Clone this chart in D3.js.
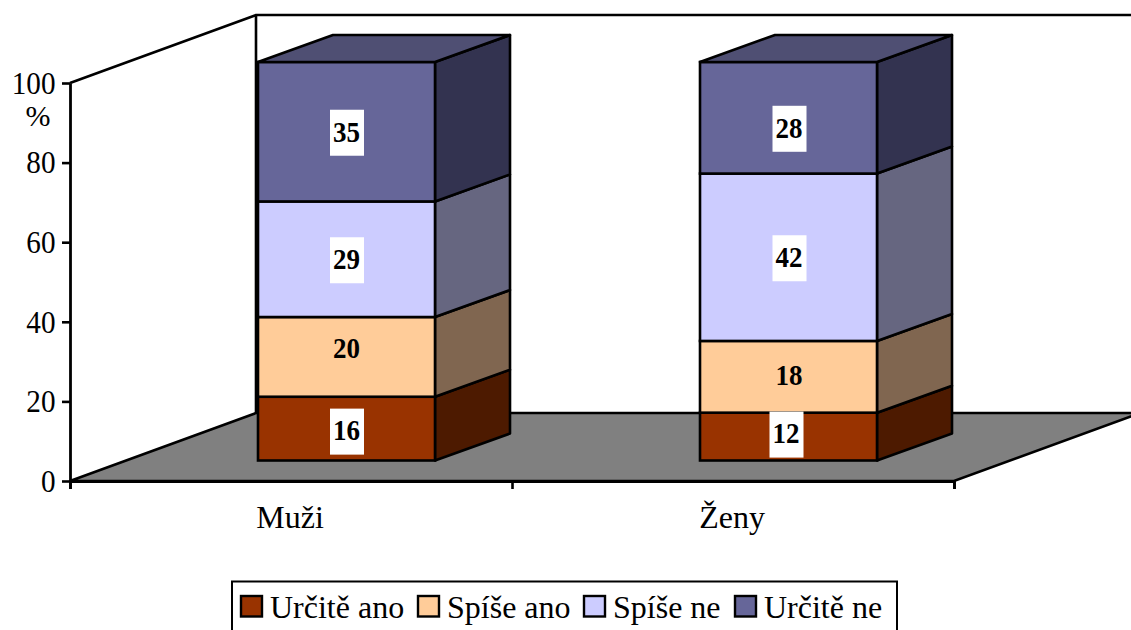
<!DOCTYPE html>
<html>
<head>
<meta charset="utf-8">
<script src="https://cdn.jsdelivr.net/npm/d3@7"></script>
<style>
html,body{margin:0;padding:0;background:#fff;overflow:hidden}
svg{display:block}
text{font-family:"Liberation Serif","Times New Roman",serif;fill:#000}
</style>
</head>
<body>
<script>
const categories = ["Muži", "Ženy"];
const seriesNames = ["Určitě ano", "Spíše ano", "Spíše ne", "Určitě ne"];
const muzi = [16, 20, 29, 35];
const zeny = [12, 18, 42, 28];
const yTicks = [0, 20, 40, 60, 80, 100];
const unitLabel = "%";

// styling / layout (not data)
const frontColors = ["#993300", "#FFCC99", "#CCCCFF", "#666699"];
const sideColors = ["#4D1A00", "#806650", "#666680", "#333350"];
const topColor = "#4F4F73";
const labelBoxed = [true, false, true, true];
const labelNudge = [[3, -8, 1, 1], [-2, -1, 1, 11]];
const labelNudgeX = [[0, 0, 0, 0], [-2, 0, 0, 0]];
const legendSwatchX = [241, 418, 584, 735];
const legendTextX = [270, 447, 613, 764];

const W = 1131, H = 630;
const svg = d3.select("body").append("svg").attr("width", W).attr("height", H);

const axisX0 = 70, axisX1 = 954, axisY0 = 481, axisY1 = 83;
const wallDx = 186, wallDy = -68;
const barDx = 75, barDy = -27;

const yAxisScale = d3.scaleLinear().domain([0, 100]).range([axisY0, axisY1]);
const yBar = d3.scaleLinear().domain([0, 100]).range([460.5, 62]);
const xBand = d3.scaleBand().domain(categories).range([axisX0, axisX1]);
const barOffset = 188, barWidth = 177;

const sw = 2.6;
const line = d3.line();

// back wall
svg.append("path").attr("fill", "none").attr("stroke", "#000").attr("stroke-width", sw)
  .attr("d", line([[axisX0, axisY1], [axisX0 + wallDx, axisY1 + wallDy], [W + 5, axisY1 + wallDy]]));
svg.append("path").attr("fill", "none").attr("stroke", "#000").attr("stroke-width", sw)
  .attr("d", line([[axisX0 + wallDx, axisY1 + wallDy], [axisX0 + wallDx, axisY0 + wallDy]]));

// floor
svg.append("path").attr("fill", "#808080").attr("stroke", "#000").attr("stroke-width", sw)
  .attr("d", line([[axisX0, axisY0], [axisX0 + wallDx, axisY0 + wallDy], [axisX1 + wallDx, axisY0 + wallDy], [axisX1, axisY0]]) + "Z");

// axes
const yAxis = d3.axisLeft(yAxisScale).tickValues(yTicks).tickSize(8).tickPadding(6.5).tickSizeOuter(0);
const gy = svg.append("g").attr("transform", `translate(${axisX0},0)`).call(yAxis);
gy.selectAll("path.domain").attr("stroke", "#000").attr("stroke-width", 2.8);
gy.selectAll(".tick line").attr("stroke", "#000").attr("stroke-width", 2.6);
gy.selectAll("text").attr("font-size", 32).style("font-family", '"Liberation Serif",serif').attr("fill", "#000")
  .attr("textLength", d => String(d).length * 14.6).attr("lengthAdjust", "spacingAndGlyphs");

const edge = d3.scaleLinear().domain([0, categories.length]).range([axisX0, axisX1]);
const xAxis = d3.axisBottom(edge).tickValues(d3.range(categories.length + 1)).tickSize(8).tickFormat("");
const gx = svg.append("g").attr("transform", `translate(0,${axisY0})`).call(xAxis);
gx.selectAll("path.domain").attr("stroke", "#000").attr("stroke-width", 2.8);
gx.selectAll(".tick line").attr("stroke", "#000").attr("stroke-width", 2.6);

svg.append("text").attr("x", 38).attr("y", 126).attr("text-anchor", "middle").attr("font-size", 30).text(unitLabel);

categories.forEach(c => {
  svg.append("text").attr("x", xBand(c) + xBand.bandwidth() / 2 - 1).attr("y", 528)
    .attr("text-anchor", "middle").attr("font-size", 32).text(c);
});

// stacked bars
const table = categories.map((c, i) => {
  const row = { cat: c };
  const vals = i === 0 ? muzi : zeny;
  seriesNames.forEach((s, j) => row[s] = vals[j]);
  return row;
});
const stacked = d3.stack().keys(seriesNames)(table);

categories.forEach((c, ci) => {
  const x0 = xBand(c) + barOffset, x1 = x0 + barWidth;
  const g = svg.append("g");
  stacked.forEach((layer, si) => {
    const [v0, v1] = layer[ci];
    const yb = yBar(v0), yt = yBar(v1);
    g.append("path").attr("fill", sideColors[si]).attr("stroke", "#000").attr("stroke-width", sw)
      .attr("stroke-linejoin", "round")
      .attr("d", line([[x1, yb], [x1 + barDx, yb + barDy], [x1 + barDx, yt + barDy], [x1, yt]]) + "Z");
    g.append("rect").attr("x", x0).attr("y", yt).attr("width", barWidth).attr("height", yb - yt)
      .attr("fill", frontColors[si]).attr("stroke", "#000").attr("stroke-width", sw);
    if (si === stacked.length - 1) {
      g.append("path").attr("fill", topColor).attr("stroke", "#000").attr("stroke-width", sw)
        .attr("stroke-linejoin", "round")
        .attr("d", line([[x0, yt], [x0 + barDx, yt + barDy], [x1 + barDx, yt + barDy], [x1, yt]]) + "Z");
    }
  });
  stacked.forEach((layer, si) => {
    const [v0, v1] = layer[ci];
    const cx = x0 + barWidth / 2 + labelNudgeX[ci][si] + (ci === 1 && si !== 0 ? 1 : 0) + (ci === 0 ? 0.5 : 0);
    const cy = (yBar(v0) + yBar(v1)) / 2 + labelNudge[ci][si];
    if (labelBoxed[si]) {
      g.append("rect").attr("x", cx - 17).attr("y", cy - 23).attr("width", 34).attr("height", 46).attr("fill", "#fff");
    }
    g.append("text").attr("x", cx - 0.5).attr("y", cy - 1).attr("dy", "0.34em").attr("text-anchor", "middle")
      .attr("font-size", 29).attr("font-weight", "bold")
      .attr("textLength", 27).attr("lengthAdjust", "spacingAndGlyphs").text(v1 - v0);
  });
});

// legend
svg.append("rect").attr("x", 232).attr("y", 581.5).attr("width", 665).attr("height", 80)
  .attr("fill", "#fff").attr("stroke", "#000").attr("stroke-width", 2);
seriesNames.forEach((s, i) => {
  svg.append("rect").attr("x", legendSwatchX[i]).attr("y", 596).attr("width", 21).attr("height", 20.5)
    .attr("fill", frontColors[i]).attr("stroke", "#000").attr("stroke-width", 2.4);
  svg.append("text").attr("x", legendTextX[i]).attr("y", 618).attr("font-size", 32).text(s);
});
</script>
</body>
</html>
